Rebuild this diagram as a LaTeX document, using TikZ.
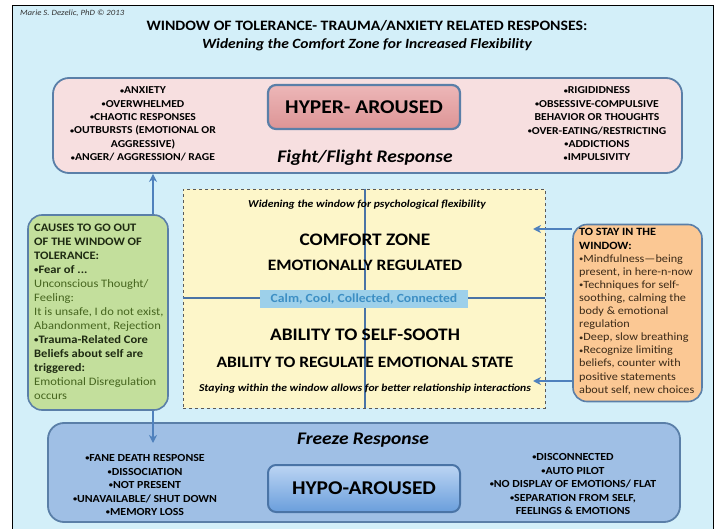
\documentclass[tikz,border=0pt]{standalone}
\usepackage{fontspec}
\setmainfont{Carlito}[FakeStretch=1.1]
\usetikzlibrary{arrows.meta,shapes.misc}
\newcommand\bul{\raisebox{0.12ex}{\scalebox{0.7}{•}}}
\definecolor{bgc}{HTML}{D3EFF9}
\definecolor{pinkbox}{HTML}{F7DFE0}
\definecolor{hyptop}{HTML}{EDB7B8}
\definecolor{hypbot}{HTML}{DC9495}
\definecolor{borderc}{HTML}{5A7FA8}
\definecolor{yellowfill}{HTML}{FDF6C9}
\definecolor{greenfill}{HTML}{C3DF9C}
\definecolor{orangefill}{HTML}{FBC894}
\definecolor{freezefill}{HTML}{9FBFE5}
\definecolor{hypotop}{HTML}{BCD5F3}
\definecolor{hypobot}{HTML}{6A9EDC}
\definecolor{linec}{HTML}{4A74A6}
\definecolor{arrc}{HTML}{4F81BD}
\definecolor{calmfill}{HTML}{9DD0EA}
\definecolor{calmtext}{HTML}{3D8FC4}
\definecolor{greentext}{HTML}{46651F}
\definecolor{greenhead}{HTML}{1E2A12}
\definecolor{orangetext}{HTML}{3B2A18}
\tikzset{
  bigbox/.style={draw=borderc, line width=1.8pt, rounded corners=16pt, inner sep=0pt},
  sidebox/.style={draw=borderc, line width=1.6pt, rounded corners=14pt, inner sep=0pt},
  listtext/.style={align=center, text=black, font=\bfseries\fontsize{10.6}{13.4}\selectfont, inner sep=0pt},
  bottomlist/.style={align=center, text=black, font=\bfseries\fontsize{10.8}{13.5}\selectfont, inner sep=0pt},
  bigtitle/.style={font=\bfseries\fontsize{19.5}{22}\selectfont, inner sep=0pt},
  resp/.style={font=\bfseries\itshape\fontsize{17.7}{20}\selectfont, inner sep=0pt},
  zonebig/.style={font=\bfseries\fontsize{17.6}{20}\selectfont, inner sep=0pt},
  zonemid/.style={font=\bfseries\fontsize{15.9}{18}\selectfont, inner sep=0pt},
  zonesmall/.style={font=\bfseries\itshape\fontsize{10.6}{12}\selectfont, inner sep=0pt},
  arr/.style={draw=arrc, line width=1.6pt, -{Stealth[length=8pt,width=8pt,inset=2.5pt]}},
  divline/.style={draw=linec, line width=1.4pt}
}
\begin{document}
\begin{tikzpicture}[x=1pt,y=-1pt]
\useasboundingbox (0,0) rectangle (720,529);
\fill[white] (0,0) rectangle (720,529);
\fill[bgc] (12,6) rectangle (713,529);
\draw[black, line width=1pt] (12,529) -- (12,6) -- (713,6) -- (713,529);

\node[anchor=west, font=\itshape\fontsize{8}{9}\selectfont, text=black!80, inner sep=0pt] (credit) at (20,13) {Marie S. Dezelic, PhD © 2013};
\node[font=\bfseries\fontsize{14.35}{17}\selectfont, inner sep=0pt] (title) at (367,26) {WINDOW OF TOLERANCE- TRAUMA/ANXIETY RELATED RESPONSES:};
\node[font=\bfseries\itshape\fontsize{14.1}{16}\selectfont, inner sep=0pt] (subtitle) at (367,45) {Widening the Comfort Zone for Increased Flexibility};

% hyper-aroused
\node[bigbox, fill=pinkbox, minimum width=629pt, minimum height=95pt] (hyper) at (367.5,125.5) {};
\node[draw=borderc, line width=2.2pt, rounded corners=8pt, top color=hyptop, bottom color=hypbot, minimum width=192pt, minimum height=44pt, inner sep=0pt] (hyperin) at (364,107) {};
\node[bigtitle] (hypertxt) at (hyperin.center) {HYPER- AROUSED};
\node[resp] (fight) at (365,158) {Fight/Flight Response};
\node[listtext] (hyperleft) at (143,124) {\bul ANXIETY\\\bul OVERWHELMED\\\bul CHAOTIC RESPONSES\\\bul OUTBURSTS (EMOTIONAL OR\\AGGRESSIVE)\\\bul ANGER/ AGGRESSION/ RAGE};
\node[listtext] (hyperright) at (597,124) {\bul RIGIDIDNESS\\\bul OBSESSIVE-COMPULSIVE\\BEHAVIOR OR THOUGHTS\\\bul OVER-EATING/RESTRICTING\\\bul ADDICTIONS\\\bul IMPULSIVITY};

% freeze
\node[bigbox, fill=freezefill, minimum width=632pt, minimum height=99pt] (freeze) at (364,472.5) {};
\node[resp] (freezetxt) at (363,440) {Freeze Response};
\node[draw=linec, line width=2pt, rounded corners=8pt, top color=hypotop, bottom color=hypobot, minimum width=192pt, minimum height=47pt, inner sep=0pt] (hypoin) at (364,488.5) {};
\node[bigtitle] (hypotxt) at (hypoin.center) {HYPO-AROUSED};
\node[bottomlist] (hypoleft) at (145,485) {\bul FANE DEATH RESPONSE\\\bul DISSOCIATION\\\bul NOT PRESENT\\\bul UNAVAILABLE/ SHUT DOWN\\\bul MEMORY LOSS};
\node[bottomlist] (hyporight) at (573,484) {\bul DISCONNECTED\\\bul AUTO PILOT\\\bul NO DISPLAY OF EMOTIONS/ FLAT\\\bul SEPARATION FROM SELF,\\FEELINGS \& EMOTIONS};

% vertical double arrow
\coordinate (axis) at (153,300);
\coordinate (downtip) at (153,443);
\draw[arr, {Stealth[length=8pt,width=8pt,inset=2.5pt]}-{Stealth[length=8pt,width=8pt,inset=2.5pt]}] (hyper.south -| axis) -- (downtip);

% yellow window
\node[draw=gray!70!black, dashed, line width=0.9pt, fill=yellowfill, minimum width=362pt, minimum height=219pt, inner sep=0pt] (window) at (364,298.5) {};
\draw[divline] (window.north -| 365,0) -- (window.south -| 365,0);
\draw[divline] (window.west |- 0,298) -- (window.east |- 0,298);
\node[fill=calmfill, minimum width=208pt, minimum height=18pt, inner sep=0pt, text=calmtext, font=\bfseries\fontsize{12.4}{14}\selectfont] (calm) at (364,299) {Calm, Cool, Collected, Connected};
\node[zonesmall] (widen) at (367,205) {Widening the window for psychological flexibility};
\node[zonebig] (comfort) at (365,240) {COMFORT ZONE};
\node[zonemid] (emreg) at (365,265) {EMOTIONALLY REGULATED};
\node[zonebig] (soothe) at (365,335) {ABILITY TO SELF-SOOTH};
\node[zonemid] (regulate) at (365,362) {ABILITY TO REGULATE EMOTIONAL STATE};
\node[zonesmall] (staying) at (365,389) {Staying within the window allows for better relationship interactions};

% green causes box
\node[sidebox, fill=greenfill, minimum width=140pt, minimum height=195pt] (causes) at (98,312.5) {};
\node[anchor=north west, align=left, inner sep=0pt, text=greentext, font=\fontsize{11.4}{14}\selectfont] (causestxt) at (34,223.5) {\textbf{\color{greenhead}CAUSES TO GO OUT}\\\textbf{\color{greenhead}OF THE WINDOW OF}\\\textbf{\color{greenhead}TOLERANCE:}\\\textbf{\color{greenhead}\bul Fear of ...}\\Unconscious Thought/\\Feeling:\\It is unsafe, I do not exist,\\Abandonment, Rejection\\\textbf{\color{greenhead}\bul Trauma-Related Core}\\\textbf{\color{greenhead}Beliefs about self are}\\\textbf{\color{greenhead}triggered:}\\Emotional Disregulation\\occurs};

% orange stay box
\node[sidebox, fill=orangefill, minimum width=129pt, minimum height=177pt] (stay) at (637.5,313) {};
\node[anchor=north west, align=left, inner sep=0pt, text=orangetext, font=\fontsize{11.1}{13.1}\selectfont] (staytxt) at (579,228.5) {\textbf{\color{black}TO STAY IN THE}\\\textbf{\color{black}WINDOW:}\\\bul Mindfulness—being\\present, in here-n-now\\\bul Techniques for self-\\soothing, calming the\\body \& emotional\\regulation\\\bul Deep, slow breathing\\\bul Recognize limiting\\beliefs, counter with\\positive statements\\about self, new choices};

\coordinate (tip1) at (533,229);
\coordinate (tip2) at (533,381);
\draw[arr] (tip1 -| stay.west) -- (tip1);
\draw[arr] (tip2 -| stay.west) -- (tip2);
\end{tikzpicture}
\end{document}
